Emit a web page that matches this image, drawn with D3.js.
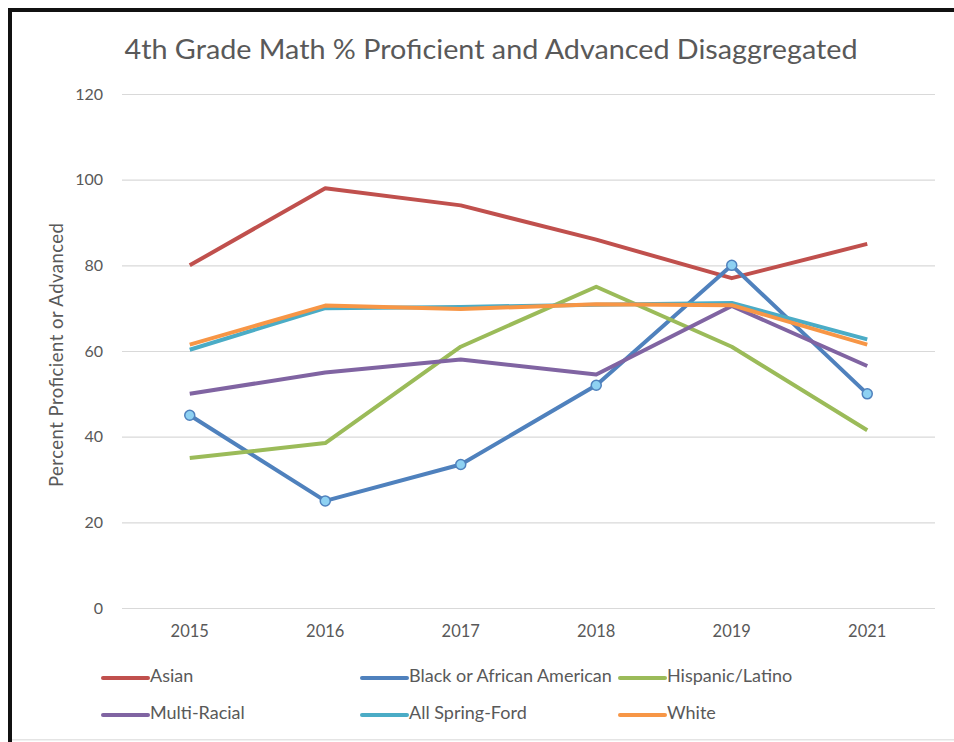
<!DOCTYPE html>
<html>
<head>
<meta charset="utf-8">
<script src="https://cdn.jsdelivr.net/npm/d3@7"></script>
<style>
  html, body { margin: 0; padding: 0; background: #fff; }
  svg { display: block; }
  text { font-family: Lato, "Open Sans", sans-serif; fill: #595959; }
</style>
</head>
<body>
<svg id="chart" width="954" height="742"></svg>
<script>
// Years on the category axis
const years = ["2015", "2016", "2017", "2018", "2019", "2021"];

// Percent proficient or advanced, by group
const asian        = [80, 98, 94, 86, 77, 85];
const black        = [45, 25, 33.5, 52, 80, 50];
const hispanic     = [35, 38.5, 61, 75, 61, 41.5];
const multiRacial  = [50, 55, 58, 54.5, 70.5, 56.5];
const allSpringFord = [60.3, 70, 70.3, 70.8, 71.2, 62.7];
const white        = [61.5, 70.6, 69.8, 70.9, 70.7, 61.5];

const seriesNames = ["Asian", "Black or African American", "Hispanic/Latino",
                     "Multi-Racial", "All Spring-Ford", "White"];
const yTicks = [0, 20, 40, 60, 80, 100, 120];

const series = [
  { name: seriesNames[0], values: asian,         color: "#C0504D", markers: false },
  { name: seriesNames[1], values: black,         color: "#4F81BD", markers: true },
  { name: seriesNames[2], values: hispanic,      color: "#9BBB59", markers: false },
  { name: seriesNames[3], values: multiRacial,   color: "#8064A2", markers: false },
  { name: seriesNames[4], values: allSpringFord, color: "#4BACC6", markers: false },
  { name: seriesNames[5], values: white,         color: "#F79646", markers: false }
];

const svg = d3.select("#chart");

// frame: heavy dark edges on top and left, faint line at the bottom
svg.append("rect").attr("x", 8).attr("y", 8).attr("width", 946).attr("height", 4).attr("fill", "#111");
svg.append("rect").attr("x", 8).attr("y", 8).attr("width", 4).attr("height", 734).attr("fill", "#111");
svg.append("rect").attr("x", 12).attr("y", 739).attr("width", 942).attr("height", 1.5).attr("fill", "#e4e4e4");

const plot = { left: 122, right: 935, top: 94, bottom: 608 };

const x = d3.scaleBand().domain(years).range([plot.left, plot.right]);
const y = d3.scaleLinear().domain([0, 120]).range([plot.bottom, plot.top]);

// title
svg.append("text")
  .attr("x", 491).attr("y", 59)
  .attr("text-anchor", "middle")
  .attr("font-size", 26)
  .attr("textLength", 733).attr("lengthAdjust", "spacingAndGlyphs")
  .text("4th Grade Math % Proficient and Advanced Disaggregated");

// horizontal gridlines and y labels
const yAxis = d3.axisLeft(y).tickValues(yTicks).tickSize(-(plot.right - plot.left)).tickPadding(19);
const gy = svg.append("g").attr("transform", `translate(${plot.left},0)`).call(yAxis);
gy.select(".domain").remove();
gy.selectAll(".tick line").attr("stroke", "#d9d9d9").attr("stroke-width", 1.2);
gy.selectAll(".tick text").attr("font-size", 16).attr("fill", "#595959")
  .attr("font-family", "Lato, 'Open Sans', sans-serif");

// x labels
const xAxis = d3.axisBottom(x).tickSize(0).tickPadding(17);
const gx = svg.append("g").attr("transform", `translate(0,${plot.bottom})`).call(xAxis);
gx.select(".domain").remove();
gx.selectAll(".tick text").attr("font-size", 16.5).attr("fill", "#595959")
  .attr("font-family", "Lato, 'Open Sans', sans-serif");

// y axis title
svg.append("text")
  .attr("transform", `translate(63,355) rotate(-90)`)
  .attr("text-anchor", "middle")
  .attr("font-size", 18.5)
  .attr("textLength", 264).attr("lengthAdjust", "spacing")
  .text("Percent Proficient or Advanced");

// lines
const cx = d => x(d.year) + x.bandwidth() / 2;
const line = d3.line().x(cx).y(d => y(d.value));

series.forEach(s => {
  const pts = years.map((yr, i) => ({ year: yr, value: s.values[i] }));
  svg.append("path")
    .datum(pts)
    .attr("d", line)
    .attr("fill", "none")
    .attr("stroke", s.color)
    .attr("stroke-width", 4)
    .attr("stroke-linejoin", "round");
  if (s.markers) {
    svg.append("g").selectAll("circle").data(pts).join("circle")
      .attr("cx", cx).attr("cy", d => y(d.value))
      .attr("r", 5)
      .attr("fill", "#8ED1F2")
      .attr("stroke", s.color)
      .attr("stroke-width", 1.5);
  }
});

// legend, two rows of three
const legendCols = [103, 362, 620];
const legendRows = [676, 713];
series.forEach((s, i) => {
  const lx = legendCols[i % 3], ly = legendRows[Math.floor(i / 3)];
  const g = svg.append("g");
  g.append("line")
    .attr("x1", lx).attr("x2", lx + 45).attr("y1", ly + 2).attr("y2", ly + 2)
    .attr("stroke", s.color).attr("stroke-width", 4).attr("stroke-linecap", "round");
  g.append("text")
    .attr("x", lx + 47).attr("y", ly + 6)
    .attr("font-size", 18)
    .text(s.name);
});
</script>
</body>
</html>
